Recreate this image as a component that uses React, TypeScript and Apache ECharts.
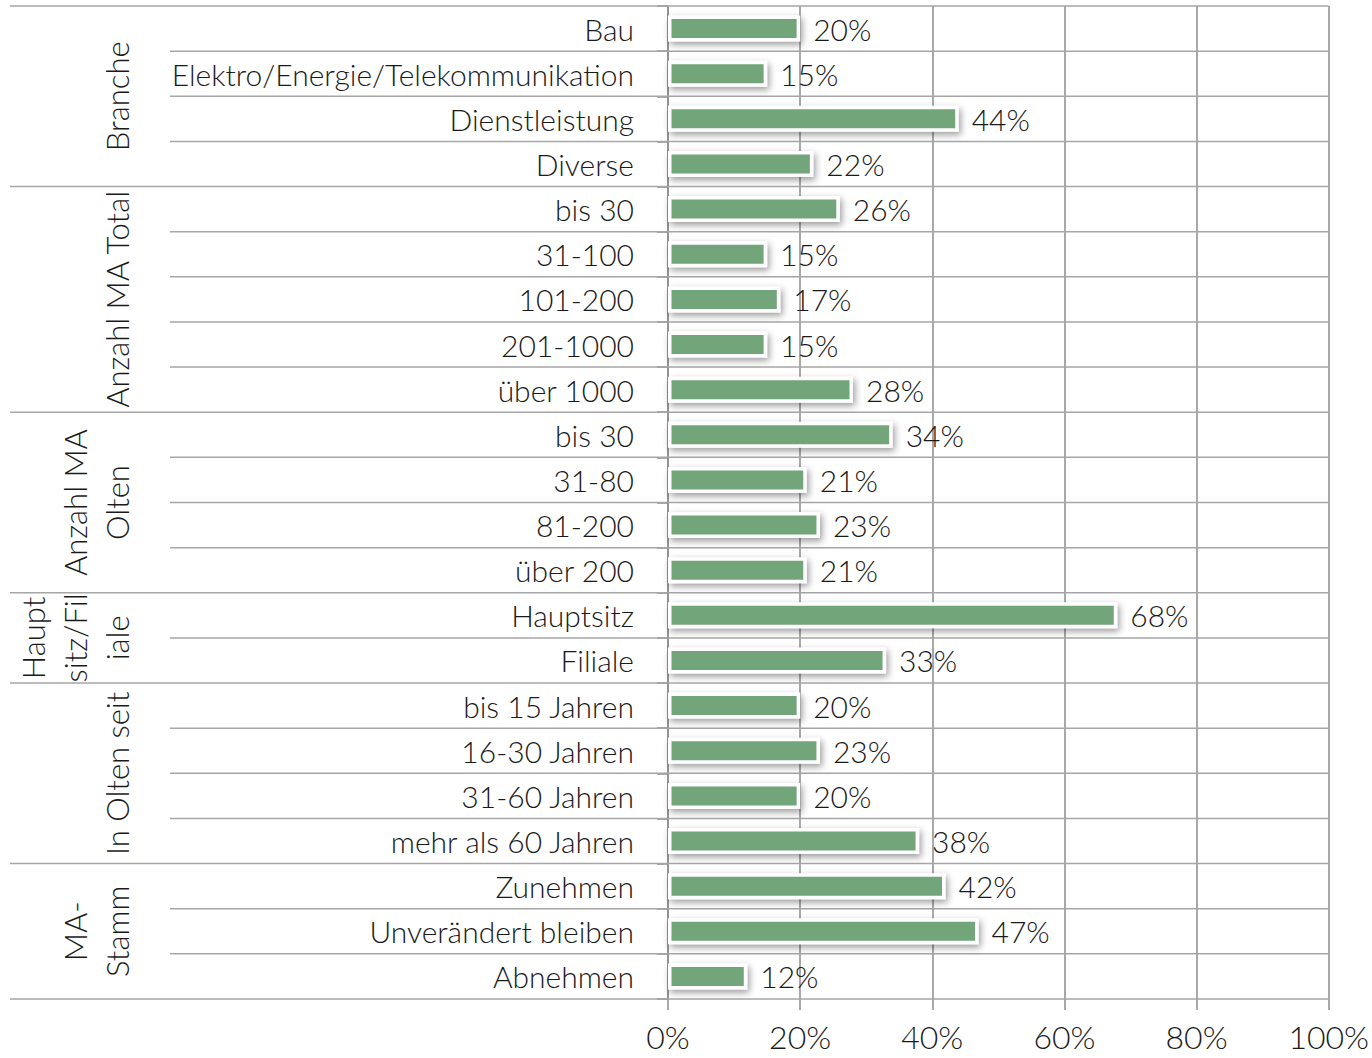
import React, { useEffect, useRef } from "react";
import * as echarts from "echarts";

const categories = [
  "Bau",
  "Elektro/Energie/Telekommunikation",
  "Dienstleistung",
  "Diverse",
  "bis 30",
  "31-100",
  "101-200",
  "201-1000",
  "über 1000",
  "bis 30",
  "31-80",
  "81-200",
  "über 200",
  "Hauptsitz",
  "Filiale",
  "bis 15 Jahren",
  "16-30 Jahren",
  "31-60 Jahren",
  "mehr als 60 Jahren",
  "Zunehmen",
  "Unverändert bleiben",
  "Abnehmen",
];
const values = [20, 15, 44, 22, 26, 15, 17, 15, 28, 34, 21, 23, 21, 68, 33, 20, 23, 20, 38, 42, 47, 12];
const groupNames = ["Branche", "Anzahl MA Total", "Anzahl MA\nOlten", "Haupt\nsitz/Fil\niale", "In Olten seit", "MA-\nStamm"];
const groupSizes = [4, 5, 4, 2, 4, 3];
const xMin = 0;
const xMax = 100;
const xStep = 20;

const FONT = 'Lato, "Open Sans", sans-serif';
const TEXT = "#1a1a1a";

export default function App() {
  const ref = useRef<HTMLDivElement>(null);
  useEffect(() => {
    if (!ref.current) return;
    const chart = echarts.init(ref.current, null, { renderer: "svg" });
    const ids = categories.map((_, i) => String(i));
    chart.setOption({
      animation: false,
      backgroundColor: "#fff",
      textStyle: { fontFamily: FONT, fontWeight: 300 },
      grid: { left: 668, right: 43, top: 6, bottom: 59, containLabel: false },
      xAxis: {
        type: "value",
        min: xMin,
        max: xMax,
        interval: xStep,
        axisLine: { show: false },
        axisTick: { show: true, length: 11, lineStyle: { color: "#8c8c8c", width: 1.5 } },
        splitLine: { show: true, lineStyle: { color: "#8c8c8c", width: 1.5 } },
        axisLabel: {
          formatter: "{value}%",
          fontSize: 32,
          lineHeight: 32,
          color: TEXT,
          fontFamily: FONT,
          fontWeight: 300,
          margin: 21,
        },
      },
      yAxis: {
        type: "category",
        inverse: true,
        data: ids,
        axisLine: { show: true, lineStyle: { color: "#8c8c8c", width: 1.5 } },
        axisTick: { show: true, length: 11, lineStyle: { color: "#8c8c8c", width: 1.5 } },
        splitLine: { show: false },
        axisLabel: {
          formatter: (v: string) => categories[Number(v)],
          fontSize: 30,
          color: TEXT,
          fontFamily: FONT,
          fontWeight: 300,
          margin: 34,
        },
      },
      series: [
        {
          type: "bar",
          data: values,
          barWidth: 26,
          z: 3,
          itemStyle: {
            color: "#72a57a",
            borderColor: "#ffffff",
            borderWidth: 3.5,
            shadowBlur: 7,
            shadowColor: "rgba(0,0,0,0.4)",
            shadowOffsetX: 2,
            shadowOffsetY: 3,
          },
          label: {
            show: true,
            position: "right",
            distance: 13,
            formatter: "{c}%",
            fontSize: 30,
            color: TEXT,
            fontFamily: FONT,
            fontWeight: 300,
          },
        },
      ],
    });

    const yc = categories.map((_, i) => chart.convertToPixel({ yAxisIndex: 0 }, i) as number);
    const band = yc[1] - yc[0];
    const xRight = chart.convertToPixel({ xAxisIndex: 0 }, xMax) as number;
    const groupStarts: number[] = [];
    let acc = 0;
    groupSizes.forEach((s) => {
      groupStarts.push(acc);
      acc += s;
    });
    const groupBoundary = new Set<number>([...groupStarts, categories.length]);
    const graphics: any[] = [];
    for (let k = 0; k <= categories.length; k++) {
      const y = yc[0] - band / 2 + k * band;
      graphics.push({
        type: "line",
        z: 1,
        silent: true,
        shape: { x1: groupBoundary.has(k) ? 10 : 170, y1: y, x2: xRight, y2: y },
        style: { stroke: "#a6a6a6", lineWidth: 1.5 },
      });
    }
    const lineH = 42;
    groupNames.forEach((name, gi) => {
      const first = groupStarts[gi];
      const last = first + groupSizes[gi] - 1;
      const cy = (yc[first] + yc[last]) / 2;
      graphics.push({
        type: "text",
        z: 5,
        x: 117 + lineH / 2,
        y: cy,
        rotation: Math.PI / 2,
        style: {
          text: name,
          fontSize: 31,
          fontFamily: FONT,
          fontWeight: 300,
          fill: TEXT,
          align: "center",
          verticalAlign: "bottom",
          lineHeight: lineH,
        },
      });
    });
    chart.setOption({ graphic: graphics });
    return () => chart.dispose();
  }, []);
  return (
    <div
      ref={ref}
      style={{ position: "fixed", left: 0, top: 0, width: 1372, height: 1058, background: "#fff" }}
    />
  );
}
